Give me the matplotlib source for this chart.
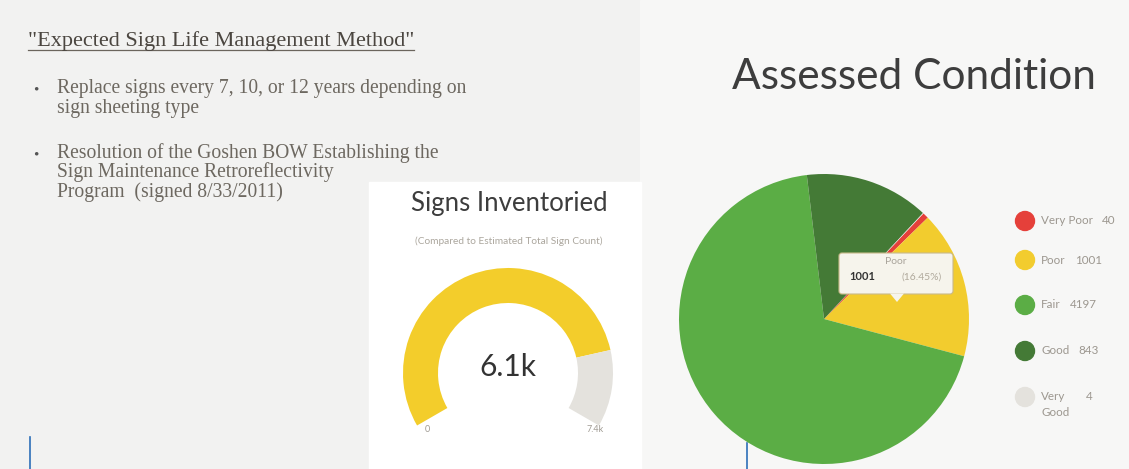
import numpy as np
import matplotlib
matplotlib.use("Agg")
import matplotlib.pyplot as plt
from matplotlib.patches import FancyBboxPatch, Polygon, Rectangle, Circle
from matplotlib.lines import Line2D

# condition counts for the pie
conditions = ["Very Poor", "Poor", "Fair", "Good", "Very Good"]
counts = [40, 1001, 4197, 843, 4]
legend_labels = ["Very Poor", "Poor", "Fair", "Good", "Very\nGood"]
cond_colors = ["#e5403a", "#f2cc2e", "#5bad45", "#447a36", "#e4e2dd"]

# gauge: inventoried vs estimated total
inventoried = 6085
estimated_total = 7400
gauge_min_label = "0"
gauge_max_label = "7.4k"
gauge_value_label = "6.1k"

header = '"Expected Sign Life Management Method"'
bullets = [
    ["Replace signs every 7, 10, or 12 years depending on",
     "sign sheeting type"],
    ["Resolution of the Goshen BOW Establishing the",
     "Sign Maintenance Retroreflectivity",
     "Program  (signed 8/33/2011)"],
]

W, H = 1129, 469
fig = plt.figure(figsize=(W / 100, H / 100), dpi=100)
fig.patch.set_facecolor("#f2f2f1")

# background axes in pixel units
bg = fig.add_axes([0, 0, 1, 1])
bg.set_xlim(0, W)
bg.set_ylim(H, 0)
bg.axis("off")
bg.add_patch(Rectangle((640, 0), W - 640, H, color="#f7f7f6", zorder=0))
bg.add_patch(Rectangle((369, 182), 272, H - 182, color="white", zorder=1))

serif = "Liberation Serif"
hdr = bg.text(28, 46, header, fontsize=16, family=serif, color="#4b4640",
              va="baseline", ha="left")
fig.canvas.draw()
bb = hdr.get_window_extent().transformed(bg.transData.inverted())
bg.add_line(Line2D([bb.x0, bb.x1], [50, 50], color="#6b655d", lw=0.9))

y_first = [93, 158]
line_gap = 19.5
for y, lines in zip(y_first, bullets):
    bg.text(33, y, "\u2022", fontsize=11, family=serif, color="#555",
            va="baseline")
    for k, txt in enumerate(lines):
        bg.text(57, y + k * line_gap, txt, fontsize=14.1, family=serif,
                color="#6d6860", va="baseline")

sans = "Lato"
bg.text(914, 77, "Assessed Condition", fontsize=30.5, family=sans,
        color="#3d3d3d", ha="center", va="center")
bg.text(509, 203, "Signs Inventoried", fontsize=18.5, family=sans,
        color="#3d3d3d", ha="center", va="center")
bg.text(509, 241, "(Compared to Estimated Total Sign Count)", fontsize=7.3,
        family=sans, color="#aba69d", ha="center", va="center")

# gauge (240 degree arc)
gcx, gcy, gr = 508, 373, 105
gax = fig.add_axes([(gcx - gr) / W, 1 - (gcy + gr) / H, 2 * gr / W, 2 * gr / H])
gauge_vals = [inventoried, estimated_total - inventoried, estimated_total * 0.5]
gax.pie(gauge_vals, colors=["#f3cd2b", "#e4e2dd", "none"],
        startangle=210, counterclock=False, radius=1,
        wedgeprops=dict(width=1 / 3, linewidth=0))
gax.set_xlim(-1, 1)
gax.set_ylim(-1, 1)
gax.axis("off")
bg.text(gcx, 367, gauge_value_label, fontsize=21.5, family=sans,
        color="#333", ha="center", va="center")
bg.text(427, 430, gauge_min_label, fontsize=6.5, family=sans, color="#a09b93",
        ha="center", va="center")
bg.text(595, 429, gauge_max_label, fontsize=6.5, family=sans, color="#a09b93",
        ha="center", va="center")

# condition pie
pcx, pcy, pr = 824, 319, 145
pax = fig.add_axes([(pcx - pr) / W, 1 - (pcy + pr) / H, 2 * pr / W, 2 * pr / H])
pax.pie(counts, colors=cond_colors, startangle=46.7, counterclock=False,
        radius=1, wedgeprops=dict(linewidth=0))
pax.set_xlim(-1, 1)
pax.set_ylim(-1, 1)
pax.axis("off")

# tooltip for the Poor slice
tip = fig.add_axes([0, 0, 1, 1])
tip.set_xlim(0, W)
tip.set_ylim(H, 0)
tip.axis("off")
tip.patch.set_alpha(0)
tip.add_patch(FancyBboxPatch((839, 253), 114, 41, boxstyle="round,pad=0,rounding_size=3",
                             fc="#f6f4ec", ec="#c9b98a", lw=0.8, zorder=3))
tip.add_patch(Polygon([[890, 293.5], [904, 293.5], [897, 302]], closed=True,
                      fc="#f6f4ec", ec="none", zorder=4))
total = sum(counts)
i = conditions.index("Poor")
tip.text(896, 262, conditions[i], fontsize=7.5, family=sans, color="#a9a49b",
         ha="center", va="center", zorder=5)
tip.text(849, 277, f"{counts[i]}", fontsize=8, family=sans, color="#333",
         weight="bold", ha="left", va="center", zorder=5)
tip.text(942, 277, f"({100 * counts[i] / total:.2f}%)", fontsize=7.5,
         family=sans, color="#b0a99c", ha="right", va="center", zorder=5)

# legend
leg_y = [221, 260, 305, 351, 397]
leg_fs = 8.4
for y, lab, v, c in zip(leg_y, legend_labels, counts, cond_colors):
    bg.add_patch(Circle((1025, y), 9.5, color=c, zorder=2))
    lines = lab.split("\n")
    t = bg.text(1041, y, lines[0], fontsize=leg_fs, family=sans,
                color="#9c978f", va="center")
    fig.canvas.draw()
    tb = t.get_window_extent().transformed(bg.transData.inverted())
    vx = 1086 if len(lines) > 1 else tb.x1 + 9
    bg.text(vx, y, str(v), fontsize=leg_fs, family=sans, color="#9c978f",
            va="center")
    if len(lines) > 1:
        bg.text(1041, y + 16, lines[1], fontsize=leg_fs, family=sans,
                color="#9c978f", va="center")

# blue rule stubs along the bottom
for x, y0 in [(30, 437), (747, 443)]:
    bg.add_line(Line2D([x, x], [y0, H], color="#2d6fb8", lw=1.2))

fig.savefig("out.png", dpi=100, facecolor=fig.get_facecolor())
